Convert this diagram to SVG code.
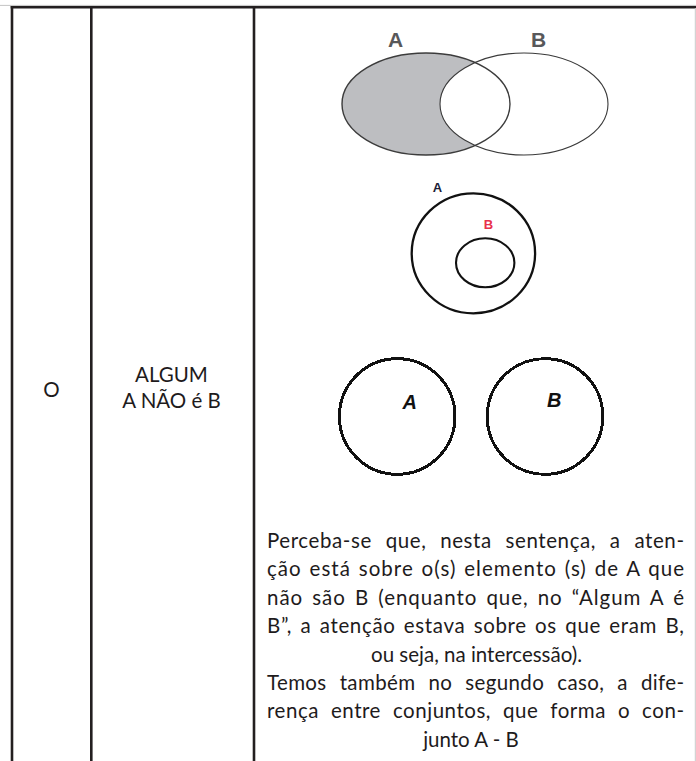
<svg xmlns="http://www.w3.org/2000/svg" width="696" height="761" viewBox="0 0 696 761">
  <style>
    .rule { stroke: #231f20; stroke-width: 2.6; fill: none; }
    .body { font-family: Lato, "Liberation Sans", sans-serif; font-size: 20.5px; fill: #1e1b1c; }
    .mid { text-anchor: middle; }
    .venn-label { font-family: "Liberation Sans", Arial, sans-serif; font-weight: bold; font-size: 21px; fill: #58585a; text-anchor: middle; }
    .small-label { font-family: "Liberation Sans", Arial, sans-serif; font-weight: bold; font-size: 13px; }
    .disjoint-label { font-family: "Liberation Sans", Arial, sans-serif; font-weight: bold; font-style: italic; font-size: 20px; fill: #111; }
    .ring { fill: none; stroke: #111; }
  </style>

  <rect x="0" y="0" width="696" height="761" fill="#ffffff"/>

  <!-- table grid -->
  <g id="table-grid">
    <line x1="0" y1="5.4" x2="696" y2="5.4" stroke="#c4c4c4" stroke-width="1"/>
    <line x1="10.7" y1="7.2" x2="696" y2="7.2" class="rule" stroke-width="2.4"/>
    <line x1="12" y1="6" x2="12" y2="761" class="rule"/>
    <line x1="91.3" y1="6" x2="91.3" y2="761" class="rule"/>
    <line x1="254" y1="6" x2="254" y2="761" class="rule"/>
    <line x1="695.3" y1="8" x2="695.3" y2="761" stroke="#c8c8c8" stroke-width="1"/>
  </g>

  <!-- left columns -->
  <g id="cell-type">
    <text class="body mid" x="51.5" y="396.5">O</text>
  </g>
  <g id="cell-statement">
    <text class="body mid" x="171.5" y="381.5">ALGUM</text>
    <text class="body mid" x="171.5" y="408">A NÃO é B</text>
  </g>

  <!-- Venn diagram: A minus B shaded -->
  <g id="venn-difference">
    <ellipse cx="426" cy="104" rx="84" ry="51" fill="#bdbec1"/>
    <ellipse cx="524" cy="104" rx="84" ry="51" fill="#ffffff"/>
    <ellipse cx="426" cy="104" rx="84" ry="51" fill="none" stroke="#3c3c3c" stroke-width="1.4"/>
    <ellipse cx="524" cy="104" rx="84" ry="51" fill="none" stroke="#3a3a3a" stroke-width="1.1"/>
    <text class="venn-label" x="395.5" y="47">A</text>
    <text class="venn-label" x="538.5" y="47">B</text>
  </g>

  <!-- B contained in A -->
  <g id="venn-subset">
    <ellipse class="ring" cx="473.4" cy="253.3" rx="61.7" ry="60" stroke-width="2.3"/>
    <ellipse class="ring" cx="485.2" cy="262.8" rx="29.2" ry="24.5" stroke-width="2.1"/>
    <text class="small-label" x="432.7" y="191.7" fill="#1c1c38">A</text>
    <text class="small-label" x="483.8" y="229.3" fill="#e8304a">B</text>
  </g>

  <!-- disjoint sets -->
  <g id="venn-disjoint">
    <circle class="ring" cx="397.2" cy="416.5" r="57.8" stroke-width="3" shape-rendering="crispEdges"/>
    <circle class="ring" cx="545" cy="416.5" r="57.8" stroke-width="3" shape-rendering="crispEdges"/>
    <text class="disjoint-label" x="402.5" y="409.3">A</text>
    <text class="disjoint-label" x="547" y="407.3">B</text>
  </g>

  <!-- explanatory paragraph, justified lines stretched mostly at word gaps -->
  <g id="explanation" class="body">
    <text x="267" y="548" word-spacing="8" textLength="417" lengthAdjust="spacing">Perceba-se que, nesta sentença, a aten-</text>
    <text x="267" y="576.4" word-spacing="1.5" textLength="417" lengthAdjust="spacing">ção está sobre o(s) elemento (s) de A que</text>
    <text x="267" y="604.8" word-spacing="3" textLength="417" lengthAdjust="spacing">não são B (enquanto que, no “Algum A é</text>
    <text x="267" y="633.2" word-spacing="2.5" textLength="417" lengthAdjust="spacing">B”, a atenção estava sobre os que eram B,</text>
    <text class="mid" x="476.5" y="661.6">ou seja, na intercessão).</text>
    <text x="267" y="690" word-spacing="7.5" textLength="417" lengthAdjust="spacing">Temos também no segundo caso, a dife-</text>
    <text x="267" y="718.4" word-spacing="6.2" textLength="417" lengthAdjust="spacing">rença entre conjuntos, que forma o con-</text>
    <text class="mid" x="471" y="746.8">junto A - B</text>
  </g>
</svg>
